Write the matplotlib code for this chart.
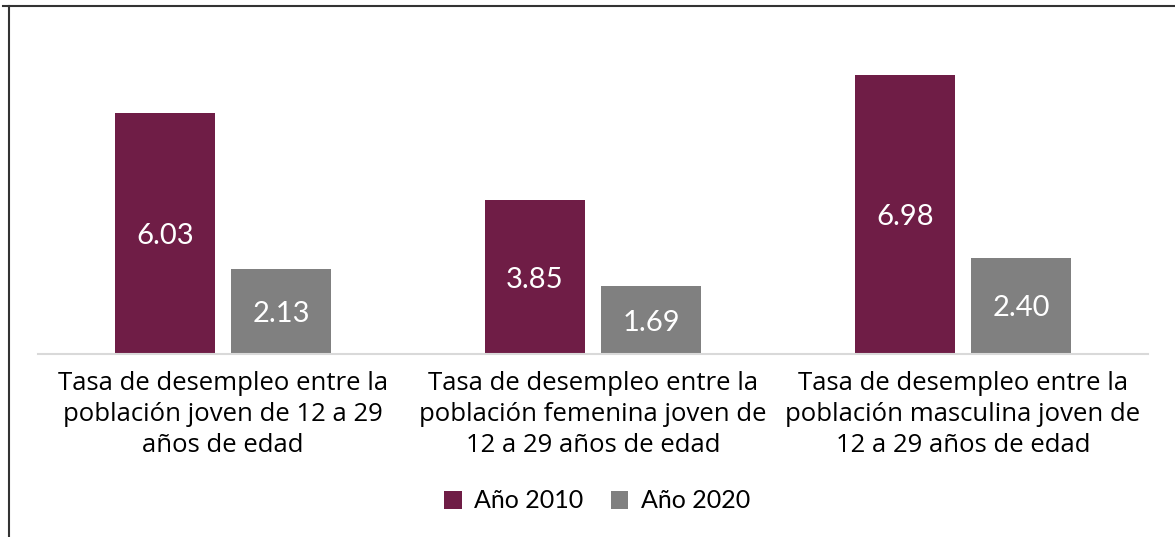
import matplotlib.pyplot as plt
import numpy as np
from matplotlib.lines import Line2D

# Datos
categorias = [
    'Tasa de desempleo entre la\npoblación joven de 12 a 29\naños de edad',
    'Tasa de desempleo entre la\npoblación femenina joven de\n12 a 29 años de edad',
    'Tasa de desempleo entre la\npoblación masculina joven de\n12 a 29 años de edad',
]
series = ['Año 2010', 'Año 2020']
valores_2010 = [6.03, 3.85, 6.98]
valores_2020 = [2.13, 1.69, 2.40]

color_2010 = '#6F1D46'
color_2020 = '#808080'

fig = plt.figure(figsize=(11.75, 5.37), dpi=100)
ax = fig.add_axes([38 / 1175, (537 - 354) / 537, 1110 / 1175, 320 / 537])

x = np.arange(len(categorias))
ancho = 100 / 370
sep = 16 / 370
b1 = ax.bar(x - ancho / 2 - sep / 2, valores_2010, ancho, color=color_2010, label=series[0])
b2 = ax.bar(x + ancho / 2 + sep / 2, valores_2020, ancho, color=color_2020, label=series[1])

# Etiquetas dentro de las barras
for barras in (b1, b2):
    for b in barras:
        h = b.get_height()
        ax.text(b.get_x() + b.get_width() / 2, h / 2, f'{h:.2f}',
                ha='center', va='center_baseline', color='white', fontsize=21, family='Lato')

ax.set_xlim(-0.5, 2.5)
ax.set_ylim(0, 8)
ax.set_yticks([])
ax.set_xticks(x)
ax.set_xticklabels(categorias, fontsize=18.5, family='Open Sans', linespacing=1.32)
ax.tick_params(axis='x', length=0, pad=12)
for s in ['top', 'right', 'left']:
    ax.spines[s].set_visible(False)
ax.spines['bottom'].set_color('#d9d9d9')
ax.spines['bottom'].set_linewidth(1.5)

leg = fig.legend(loc='center', bbox_to_anchor=(597 / 1175, 1 - 501 / 537), ncol=2,
                 frameon=False, prop={'family': 'Lato', 'size': 18},
                 handlelength=0.7, handleheight=0.7, handletextpad=0.5, columnspacing=1.1)

# Marco del gráfico
fig.add_artist(Line2D([3 / 1175, 1], [1 - 6 / 537, 1 - 6 / 537], color='#333333', lw=1.5))
fig.add_artist(Line2D([9 / 1175, 9 / 1175], [0, 1 - 6 / 537], color='#333333', lw=1.5))

fig.savefig('out.png', dpi=100)
